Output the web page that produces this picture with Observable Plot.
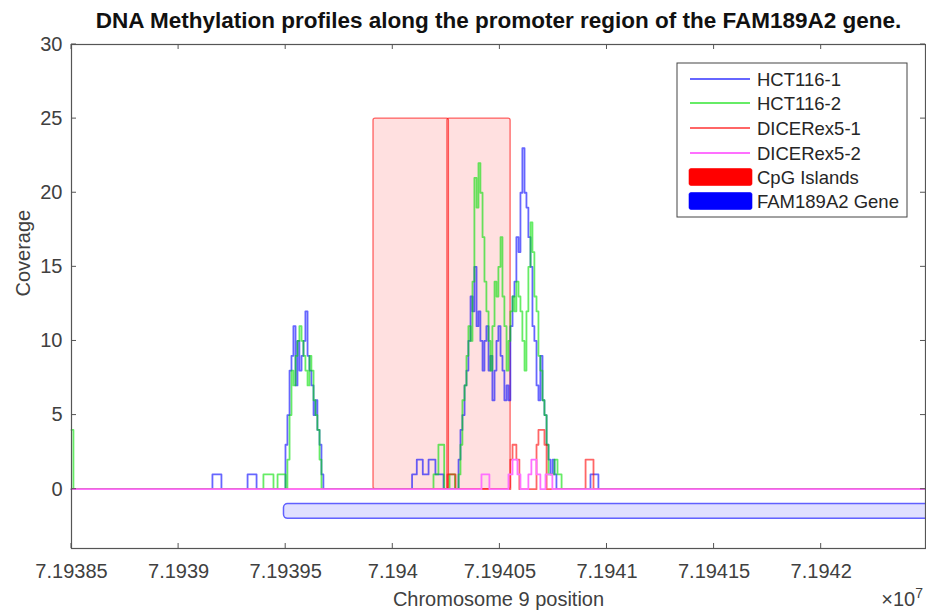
<!DOCTYPE html>
<html><head><meta charset="utf-8">
<script src="https://cdn.jsdelivr.net/npm/d3@7"></script>
<script src="https://cdn.jsdelivr.net/npm/@observablehq/plot@0.6"></script>
<style>body{margin:0;background:#fff} svg{display:block}</style>
</head><body><div id="chart"></div>
<script>
const titleText = "DNA Methylation profiles along the promoter region of the FAM189A2 gene.";
const xLabel = "Chromosome 9 position";
const yLabel = "Coverage";
const xDomain = [71938500, 71942487];
const yDomain = [-4, 30];
const xTicks = [71938500, 71939000, 71939500, 71940000, 71940500, 71941000, 71941500, 71942000];
const yTicks = [0, 5, 10, 15, 20, 25, 30];

// step series: [position, coverage] change points
const hct1 = [
[71938500,0],
[71939158,1],[71939200,0],
[71939322,1],[71939364,0],
[71939499,3],[71939508,5],[71939518,8],[71939527,9],[71939536,11],[71939546,7],[71939555,10],[71939564,8],[71939574,9],[71939583,10],[71939592,12],[71939602,9],[71939611,8],[71939620,7],[71939630,5],[71939639,6],[71939648,4],[71939658,3],[71939667,1],[71939676,0],
[71940090,1],[71940112,2],[71940140,1],[71940167,2],[71940199,1],[71940237,0],
[71940307,2],[71940316,4],[71940325,5],[71940335,7],[71940344,8],[71940353,10],[71940363,13],[71940372,12],[71940381,15],[71940391,11],[71940400,12],[71940409,10],[71940419,8],[71940428,10],[71940437,11],[71940447,8],[71940456,9],[71940465,6],[71940475,8],[71940484,10],[71940493,11],[71940503,9],[71940512,8],[71940521,6],[71940531,7],[71940540,6],[71940549,11],[71940559,13],[71940568,14],[71940577,17],[71940587,16],[71940596,20],[71940605,23],[71940615,20],[71940624,19],[71940633,17],[71940643,15],[71940652,11],[71940661,10],[71940671,7],[71940680,6],[71940689,9],[71940699,6],[71940708,5],[71940718,3],[71940727,2],[71940736,1],[71940746,2],[71940755,1],[71940764,0],
[71940923,1],[71940960,0],
[71942487,0]
];
const hct2 = [
[71938500,4],[71938509,0],
[71939396,1],[71939443,0],[71939462,1],[71939499,0],
[71939508,2],[71939518,5],[71939527,8],[71939536,7],[71939546,9],[71939555,10],[71939564,11],[71939574,10],[71939583,9],[71939592,8],[71939602,7],[71939611,9],[71939620,8],[71939630,6],[71939639,5],[71939648,4],[71939658,2],[71939667,0],
[71940190,1],[71940213,3],[71940240,0],[71940265,1],[71940290,0],
[71940307,1],[71940316,3],[71940325,6],[71940335,7],[71940344,9],[71940353,11],[71940363,10],[71940372,14],[71940381,21],[71940391,19],[71940400,22],[71940409,20],[71940419,17],[71940428,14],[71940437,12],[71940447,10],[71940456,8],[71940465,11],[71940475,14],[71940484,13],[71940493,15],[71940503,17],[71940512,13],[71940521,11],[71940531,8],[71940540,10],[71940549,12],[71940559,13],[71940568,12],[71940577,14],[71940587,13],[71940596,12],[71940605,10],[71940615,8],[71940624,12],[71940633,15],[71940643,18],[71940652,16],[71940661,13],[71940671,12],[71940680,9],[71940689,8],[71940699,6],[71940708,5],[71940718,3],[71940727,1],[71940755,2],[71940769,1],[71940788,0],
[71942487,0]
];
const dicer1 = [
[71938500,0],
[71940255,1],[71940293,0],
[71940549,2],[71940559,3],[71940577,2],[71940591,0],
[71940671,3],[71940680,4],[71940708,3],[71940718,0],
[71940900,2],[71940937,0],
[71942487,0]
];
const dicer2 = [
[71938500,0],
[71940414,1],[71940451,0],
[71940540,1],[71940559,2],[71940582,1],[71940596,0],
[71940633,1],[71940647,2],[71940671,1],[71940689,0],
[71940713,1],[71940745,0],
[71942487,0]
];
const seriesNames = ["HCT116-1", "HCT116-2", "DICERex5-1", "DICERex5-2"];
const seriesColors = ["#0000ff", "#00e000", "#ff0000", "#ff70ff"];
const seriesOpacity = [0.6, 0.6, 0.6, 1];
const seriesData = [hct1, hct2, dicer1, dicer2];

const cpgStart = [71939910, 71940255];
const cpgEnd = [71940262, 71940550];
const cpgTop = 25;
const geneStart = [71939492];
const geneEnd = [71942700];
const geneY = [-2, -1];

const cpg = cpgStart.map((s, i) => ({x1: s, x2: cpgEnd[i], y1: 0, y2: cpgTop}));
const gene = geneStart.map((s, i) => ({x1: s, x2: geneEnd[i], y1: geneY[0], y2: geneY[1]}));

const fmt = d => (d / 1e7).toFixed(5).replace(/0+$/, "");
const textColor = "#404040";
const axisColor = "#555";
const font = "'Liberation Sans', Arial, sans-serif";

const lineMarks = seriesData.map((data, i) => Plot.line(data, {
  x: d => d[0], y: d => d[1], curve: "step-after",
  stroke: seriesColors[i], strokeOpacity: seriesOpacity[i], strokeWidth: 1.8
}));

const plot = Plot.plot({
  width: 926, height: 611,
  marginLeft: 71, marginRight: 1, marginTop: 44, marginBottom: 63,
  style: {fontFamily: font, background: "#fff", color: textColor},
  x: {domain: xDomain},
  y: {domain: yDomain},
  marks: [
    Plot.rect(cpg, {x1: "x1", x2: "x2", y1: "y1", y2: "y2", fill: "#ff0000", fillOpacity: 0.12, stroke: "#ff0000", strokeOpacity: 0.6, strokeWidth: 1.3, rx: 2}),
    Plot.rect(gene, {x1: "x1", x2: "x2", y1: "y1", y2: "y2", fill: "#0000ff", fillOpacity: 0.12, stroke: "#0000ff", strokeOpacity: 0.6, strokeWidth: 1.5, rx: 4, clip: true}),
    ...lineMarks,
    Plot.frame({stroke: axisColor, strokeWidth: 1.2}),
    Plot.axisX(xTicks, {anchor: "bottom", tickSize: 0, tickPadding: 15, tickFormat: fmt, fontSize: 20, fill: textColor, label: null}),
    Plot.axisY(yTicks, {anchor: "left", tickSize: 0, tickPadding: 9, fontSize: 20, fill: textColor, label: null}),
    Plot.text([titleText], {frameAnchor: "top", text: d => d, dy: -17, lineAnchor: "bottom", fontSize: 22.5, fontWeight: "bold", fill: "#111"}),
    Plot.text([xLabel], {frameAnchor: "bottom", text: d => d, dy: 57, lineAnchor: "bottom", fontSize: 20, fill: textColor}),
    Plot.text([yLabel], {frameAnchor: "left", text: d => d, dx: -48, rotate: -90, fontSize: 20, fill: textColor})
  ]
});

const svg = d3.select(plot);
const sx = plot.scale("x"), sy = plot.scale("y");
const [X0, X1] = [sx.apply(xDomain[0]), sx.apply(xDomain[1])];
const [Y0, Y1] = [sy.apply(yDomain[0]), sy.apply(yDomain[1])];

// inward ticks on all four sides
const tg = svg.append("g").attr("stroke", axisColor).attr("stroke-width", 1);
xTicks.forEach(v => {
  const px = sx.apply(v);
  tg.append("line").attr("x1", px).attr("x2", px).attr("y1", Y0).attr("y2", Y0 - 5);
  tg.append("line").attr("x1", px).attr("x2", px).attr("y1", Y1).attr("y2", Y1 + 5);
});
yTicks.forEach(v => {
  const py = sy.apply(v);
  tg.append("line").attr("x1", X0).attr("x2", X0 + 5).attr("y1", py).attr("y2", py);
  tg.append("line").attr("x1", X1).attr("x2", X1 - 5).attr("y1", py).attr("y2", py);
});

// exponent label
const ex = svg.append("text").attr("x", X1 - 2).attr("y", Y0 + 58).attr("text-anchor", "end")
  .attr("font-family", font).attr("font-size", 20).attr("fill", textColor);
ex.append("tspan").text("×10");
ex.append("tspan").attr("dy", -8).attr("font-size", 14).text("7");

// legend
const lg = svg.append("g").attr("font-family", font).attr("font-size", 18.5).attr("fill", "#262626").attr("text-anchor", "start");
lg.append("rect").attr("x", 677).attr("y", 63).attr("width", 230).attr("height", 154).attr("fill", "#fff").attr("stroke", "#444").attr("stroke-width", 1);
const rowY = [79, 103, 128, 153, 177, 201];
seriesNames.forEach((n, i) => {
  lg.append("line").attr("x1", 690).attr("x2", 750).attr("y1", rowY[i]).attr("y2", rowY[i])
    .attr("stroke", seriesColors[i]).attr("stroke-opacity", seriesOpacity[i]).attr("stroke-width", 1.8);
  lg.append("text").attr("x", 757).attr("y", rowY[i] + 6.5).text(n);
});
const patchNames = ["CpG Islands", "FAM189A2 Gene"];
const patchColors = ["#ff0000", "#0000ff"];
patchNames.forEach((n, j) => {
  const y = rowY[4 + j];
  lg.append("rect").attr("x", 689).attr("y", y - 8.5).attr("width", 63).attr("height", 17).attr("rx", 2)
    .attr("fill", patchColors[j]).attr("stroke", patchColors[j]).attr("stroke-opacity", 0.6);
  lg.append("text").attr("x", 757).attr("y", y + 6.5).text(n);
});

document.getElementById("chart").appendChild(plot);
</script>
</body></html>
